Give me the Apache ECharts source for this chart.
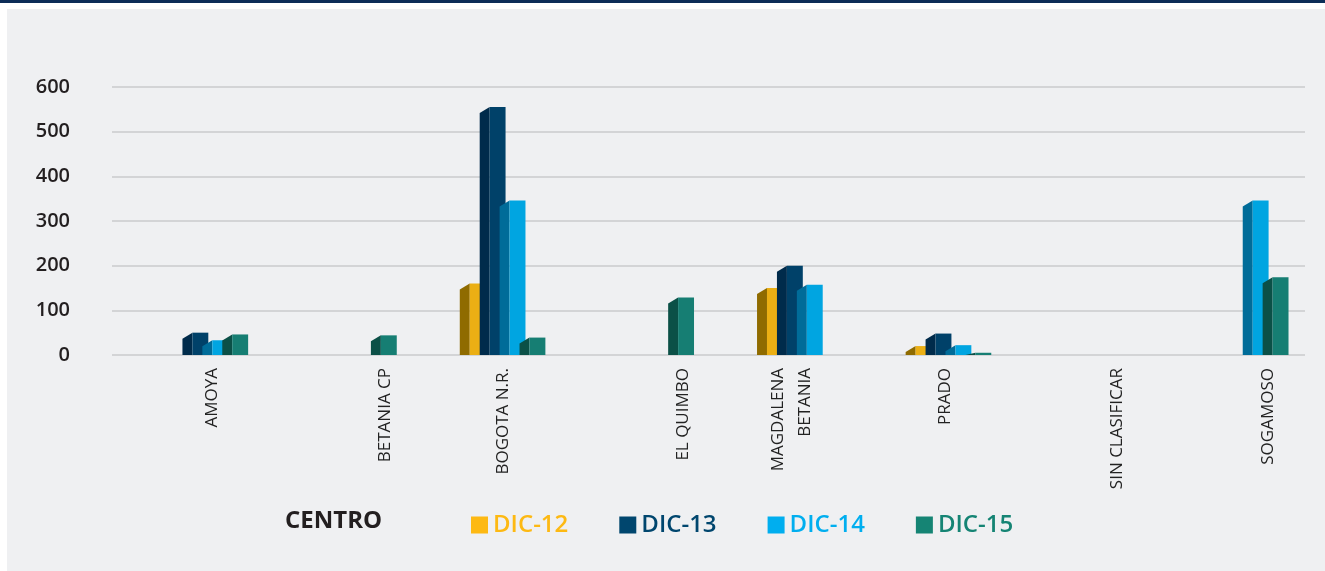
<!DOCTYPE html>
<html>
<head>
<meta charset="utf-8">
<title>Centro DIC-12 a DIC-15</title>
<script src="https://cdn.jsdelivr.net/npm/echarts@6/dist/echarts.min.js"></script>
<style>
  html, body { margin: 0; padding: 0; background: #fff; }
  #main { width: 1325px; height: 571px; }
</style>
</head>
<body>
<div id="main"></div>
<script>
// categorias (eje x)
var centros = ['AMOYA', 'BETANIA CP', 'BOGOTA N.R.', 'EL QUIMBO', 'MAGDALENA\nBETANIA', 'PRADO', 'SIN CLASIFICAR', 'SOGAMOSO'];
var series_names = ['DIC-12', 'DIC-13', 'DIC-14', 'DIC-15'];
// valores (0 = sin barra)
var dic12 = [0, 0, 160, 0, 150, 20, 0, 0];
var dic13 = [50, 0, 555, 0, 200, 48, 0, 0];
var dic14 = [33, 0, 346, 0, 157, 22, 0, 346];
var dic15 = [46, 44, 39, 129, 0, 5, 0, 174];
var y_ticks = [0, 100, 200, 300, 400, 500, 600];

var frente = ['#EBAF14', '#004169', '#00A5E1', '#167E73'];  // cara frontal
var lado = ['#8F6B00', '#002B4B', '#006C99', '#0B5047'];    // cara lateral (3d)
var leyenda = ['#FDB913', '#00466E', '#00AEEF', '#158474'];
// corrimiento horizontal de cada etiqueta (px), como en el original
var nudge = [2, 26, -4, 27, -13, -8, 15, 17];

var chart = echarts.init(document.getElementById('main'));

function barra3d(idx) {
	return function(params, api) {
		var v = api.value(1);
		if (!v) return null;
		var cat = api.value(0);
		var top = api.coord([cat, v]);
		var base = api.coord([cat, 0]);
		var band = api.size([1, 0])[0];
		var pitch = band * 0.134;
		var fw = band * 0.107;   // ancho frente
		var sw = band * 0.067;   // ancho lateral
		var fx = top[0] + (idx - 1.5) * pitch - fw / 2;
		var sideTop = Math.min(top[1] + 6, base[1]);
		return {
			type: 'group',
			children: [{
				type: 'polygon',
				shape: { points: [[fx - sw, sideTop], [fx, top[1]], [fx, base[1]], [fx - sw, base[1]]] },
				style: { fill: lado[idx] }
			}, {
				type: 'rect',
				shape: { x: fx, y: top[1], width: fw, height: base[1] - top[1] },
				style: { fill: frente[idx] }
			}]
		};
	};
}

var valores = [dic12, dic13, dic14, dic15];
var series = [];
for (var s = 0; s < 4; s++) {
	series.push({
		name: series_names[s],
		type: 'custom',
		xAxisIndex: 1,
		yAxisIndex: 1,
		itemStyle: { color: leyenda[s] },
		renderItem: barra3d(s),
		data: valores[s].map(function(v, i) { return [i, v]; })
	});
}

var rich = {};
nudge.forEach(function(d, i) {
	rich['c' + i] = {
		fontFamily: 'Open Sans', fontSize: 17, lineHeight: 27, color: '#222',
		padding: d >= 0 ? [2 * d, 0, 0, 0] : [0, 0, -2 * d, 0]
	};
});

var option = {
	animation: false,
	color: leyenda,
	graphic: [{
		type: 'rect', z: -10,
		shape: { x: 7, y: 9, width: 1318, height: 562 },
		style: { fill: '#EFF0F2' }
	}, {
		type: 'rect', z: -10,
		shape: { x: 0, y: 0, width: 1325, height: 3 },
		style: { fill: '#0C2D57' }
	}],
	title: {
		text: 'CENTRO',
		left: 280,
		top: 504,
		textStyle: { fontFamily: 'Open Sans', fontSize: 24, fontWeight: 'bold', color: '#231F20' }
	},
	legend: {
		left: 466,
		top: 508,
		icon: 'rect',
		itemWidth: 17,
		itemHeight: 17,
		itemGap: 51,
		textStyle: { fontFamily: 'Open Sans', fontSize: 24, fontWeight: 600 },
		data: series_names.map(function(n, i) {
			return { name: n, textStyle: { color: leyenda[i] } };
		})
	},
	grid: [
		{ left: 112, right: 20, top: 87, bottom: 216 },     // lineas y eje y
		{ left: 136, right: -4, top: 87, bottom: 216 }      // barras y etiquetas
	],
	xAxis: [
		{ type: 'category', gridIndex: 0, data: centros, show: false },
		{
			type: 'category', gridIndex: 1, data: centros,
			axisLine: { show: false },
			axisTick: { show: false },
			axisLabel: {
				rotate: 90,
				interval: 0,
				margin: 13,
				fontFamily: 'Open Sans',
				fontSize: 17,
				lineHeight: 27,
				color: '#222',
				formatter: function(name, i) {
					return name.split('\n').map(function(t) { return '{c' + i + '|' + t + '}'; }).join('\n');
				},
				rich: rich
			}
		}
	],
	yAxis: [
		{
			type: 'value', gridIndex: 0,
			min: 0, max: 600, interval: 100,
			axisLine: { show: false },
			axisTick: { show: false },
			axisLabel: {
				margin: 42,
				fontFamily: 'Open Sans',
				fontSize: 20,
				fontWeight: 600,
				color: '#231F20',
				formatter: function(v) { return y_ticks.indexOf(v) >= 0 ? String(v) : ''; }
			},
			splitLine: { lineStyle: { color: '#D3D4D6', width: 2 } }
		},
		{ type: 'value', gridIndex: 1, min: 0, max: 600, show: false }
	],
	series: series
};

chart.setOption(option);
</script>
</body>
</html>
